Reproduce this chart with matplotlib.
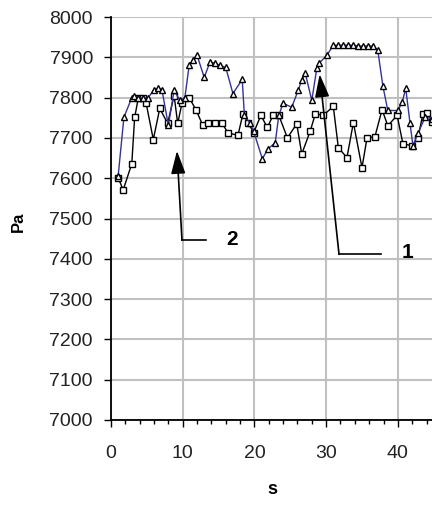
import matplotlib
matplotlib.use("Agg")
import matplotlib.pyplot as plt
from matplotlib.ticker import MultipleLocator

# Series 1 (blue line, triangles)
t1 = [1.0, 1.8, 2.9, 3.2, 3.8, 4.5, 5.2, 6.0, 6.6, 7.1, 8.0, 8.8, 9.6, 10.3, 10.9,
      11.4, 12.0, 13.0, 13.8, 14.5, 15.2, 16.0, 17.0, 18.3, 18.6, 19.4, 19.9, 21.1, 21.9, 22.9,
      23.4, 24.0, 25.2, 26.1, 26.6, 27.1, 28.0, 28.7, 29.0, 30.1, 31.0, 31.7, 32.4, 33.1, 33.8,
      34.5, 35.2, 35.8, 36.5, 37.2, 37.9, 38.6, 40.0, 40.6, 41.1, 41.7, 42.1, 42.8, 43.8, 44.8]
p1 = [7606, 7751, 7800, 7803, 7800, 7798, 7800, 7820, 7823, 7820, 7731, 7818, 7793, 7800, 7880,
      7893, 7905, 7850, 7888, 7885, 7880, 7875, 7810, 7845, 7756, 7736, 7716, 7648, 7673, 7688,
      7756, 7786, 7776, 7818, 7843, 7860, 7793, 7873, 7885, 7905, 7930, 7930, 7930, 7930, 7930,
      7928, 7928, 7928, 7928, 7918, 7830, 7768, 7768, 7788, 7823, 7736, 7681, 7711, 7751, 7748]

# Series 2 (black line, squares)
t2 = [1.0, 1.7, 2.9, 3.3, 3.8, 4.5, 4.9, 5.9, 6.8, 7.9, 8.8, 9.3, 9.9, 10.9, 11.9,
      12.8, 13.5, 14.5, 15.5, 16.3, 17.7, 18.4, 19.1, 19.9, 20.9, 21.8, 22.6, 23.4, 24.6, 25.9,
      26.6, 27.8, 28.5, 29.6, 31.0, 31.7, 32.9, 33.8, 35.0, 35.7, 36.8, 37.8, 38.6, 39.9, 40.7,
      42.0, 42.8, 43.5, 44.1, 44.8]
p2 = [7601, 7571, 7636, 7751, 7798, 7798, 7786, 7696, 7773, 7736, 7805, 7736, 7786, 7800, 7768,
      7731, 7736, 7736, 7736, 7713, 7706, 7760, 7738, 7713, 7756, 7726, 7756, 7756, 7700, 7735,
      7660, 7718, 7760, 7756, 7778, 7676, 7651, 7738, 7626, 7700, 7703, 7770, 7730, 7756, 7686,
      7680, 7700, 7760, 7763, 7740]

x_ticks = [0, 10, 20, 30, 40]
y_ticks = [7000, 7100, 7200, 7300, 7400, 7500, 7600, 7700, 7800, 7900, 8000]

plt.rcParams['font.family'] = ['Liberation Sans', 'DejaVu Sans']

fig = plt.figure(figsize=(4.32, 5.05), dpi=100)
ax = fig.add_axes([111/432, 1-420/505, 322.7/432, (420-17)/505])

ax.plot(t2, p2, color='black', lw=1.0, marker='s', ms=4.5, mfc='white', mec='black', mew=1.0, zorder=3)
ax.plot(t1, p1, color='#333399', lw=1.0, marker='^', ms=5, mfc='white', mec='black', mew=1.0, zorder=4)

ax.set_xlim(0, 45)
ax.set_ylim(7000, 8000)
ax.set_xticks(x_ticks)
ax.set_yticks(y_ticks)
ax.xaxis.set_minor_locator(MultipleLocator(2))
ax.grid(True, which='major', color='#c0c0c0', lw=1.5, zorder=0)
ax.set_axisbelow(True)
for s in ['top', 'right']:
    ax.spines[s].set_visible(False)
ax.spines['left'].set_linewidth(1.3)
ax.spines['bottom'].set_linewidth(1.3)
ax.tick_params(axis='y', direction='out', length=5, width=1, pad=8, labelsize=14, labelcolor='#222222')
ax.tick_params(axis='x', which='major', direction='out', length=5, width=1, pad=13, labelsize=14, labelcolor='#222222')
ax.tick_params(axis='x', which='minor', direction='out', length=3, width=1)

# annotations
arrow_style = dict(arrowstyle='-|>,head_length=0.7,head_width=0.22', color='black', lw=1.2,
                   mutation_scale=20, shrinkA=0, shrinkB=0)
ax.annotate('', xy=(9.2, 7668), xytext=(9.9, 7446), arrowprops=arrow_style)
ax.plot([9.9, 13.3], [7446, 7446], color='black', lw=1.2)
ax.text(16.9, 7449, '2', fontsize=15, fontweight='bold', ha='center', va='center')

ax.annotate('', xy=(29.1, 7858), xytext=(31.8, 7411), arrowprops=arrow_style)
ax.plot([31.8, 37.7], [7411, 7411], color='black', lw=1.2)
ax.text(41.4, 7416, '1', fontsize=15, fontweight='bold', ha='center', va='center')

fig.text(18/432, 1-222/505, 'Pa', rotation=90, fontsize=12, fontweight='bold', ha='center', va='center')
fig.text(272/432, 1-490/505, 's', fontsize=13, fontweight='bold', ha='center', va='center')

fig.savefig('out.png', dpi=100)
